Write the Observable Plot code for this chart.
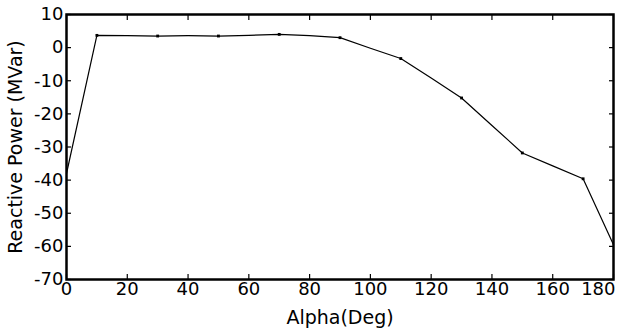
<!DOCTYPE html>
<html>
<head>
<meta charset="utf-8">
<script src="https://cdn.jsdelivr.net/npm/d3@7"></script>
<script src="https://cdn.jsdelivr.net/npm/@observablehq/plot@0.6"></script>
<style>
  html, body { margin: 0; padding: 0; background: #fff; }
  svg { display: block; }
</style>
</head>
<body>
<div id="chart"></div>
<script>
const alpha = [0, 10, 20, 30, 40, 50, 60, 70, 80, 90, 100, 110, 120, 130, 140, 150, 160, 170, 180];
const reactivePower = [-38, 3.7, 3.6, 3.5, 3.6, 3.5, 3.7, 4.0, 3.6, 3.0, -0.2, -3.3, -9.2, -15.2, -23.5, -31.8, -35.7, -39.6, -59.5];
const markerAlpha = [10, 30, 50, 70, 90, 110, 130, 150, 170];
const xTicks = [0, 20, 40, 60, 80, 100, 120, 140, 160, 180];
const yTicks = [10, 0, -10, -20, -30, -40, -50, -60, -70];
const xTitle = "Alpha(Deg)";
const yTitle = "Reactive Power (MVar)";

const data = alpha.map((a, i) => ({a, q: reactivePower[i]}));
const markers = data.filter(d => markerAlpha.includes(d.a));
const font = "DejaVu Sans, sans-serif";
const blank = () => "";
const plain = d => String(d);

const chart = Plot.plot({
  width: 621,
  height: 333,
  marginLeft: 66,
  marginRight: 8,
  marginTop: 14,
  marginBottom: 54,
  style: {fontFamily: font, fontSize: "18px", color: "black", background: "white"},
  x: {domain: [0, 180]},
  y: {domain: [-70, 10]},
  marks: [
    // inward ticks on all four sides
    Plot.axisX({anchor: "bottom", ticks: xTicks, tickSize: 5, tickFormat: blank, label: null, dy: -5, strokeWidth: 1.2}),
    Plot.axisX({anchor: "top", ticks: xTicks, tickSize: 5, tickFormat: blank, label: null, dy: 5, strokeWidth: 1.2}),
    Plot.axisY({anchor: "left", ticks: yTicks, tickSize: 5, tickFormat: blank, label: null, dx: 5, strokeWidth: 1.2}),
    Plot.axisY({anchor: "right", ticks: yTicks, tickSize: 5, tickFormat: blank, label: null, dx: -5, strokeWidth: 1.2}),
    // tick labels
    Plot.axisX({anchor: "bottom", ticks: xTicks.slice(0, -1), tickSize: 0, tickPadding: 3, label: null, fontSize: 18, tickFormat: plain}),
    Plot.axisX({anchor: "bottom", ticks: xTicks.slice(-1), tickSize: 0, tickPadding: 3, label: null, fontSize: 18, textAnchor: "end", dx: 2, tickFormat: plain}),
    Plot.axisY({anchor: "left", ticks: yTicks, tickSize: 0, tickPadding: 3, label: null, fontSize: 18, tickFormat: plain}),
    // titles
    Plot.text([xTitle], {text: d => d, frameAnchor: "bottom", dy: 38, lineAnchor: "middle", textAnchor: "middle", fontSize: 19}),
    Plot.text([yTitle], {text: d => d, frameAnchor: "left", dx: -51, rotate: -90, lineAnchor: "middle", textAnchor: "middle", fontSize: 19}),
    // data
    Plot.line(data, {x: "a", y: "q", stroke: "black", strokeWidth: 1.2}),
    Plot.dot(markers, {x: "a", y: "q", symbol: "square", r: 1.6, fill: "black", stroke: "none"}),
    Plot.frame({stroke: "black", strokeWidth: 2.5})
  ]
});
document.getElementById("chart").append(chart);
</script>
</body>
</html>
